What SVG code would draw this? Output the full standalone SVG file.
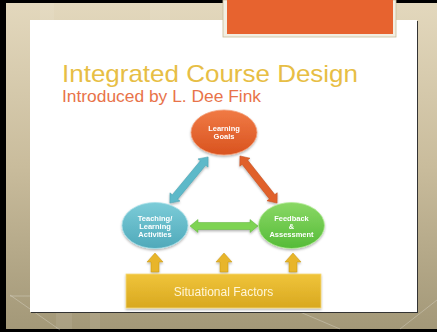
<svg xmlns="http://www.w3.org/2000/svg" width="437" height="332" viewBox="0 0 437 332">
<defs>
<linearGradient id="bg" x1="0" y1="0" x2="0" y2="1">
<stop offset="0" stop-color="#E3D8BD"/>
<stop offset="0.5" stop-color="#C9BC9C"/>
<stop offset="1" stop-color="#A39878"/>
</linearGradient>
<linearGradient id="gOr" x1="0" y1="0" x2="0" y2="1">
<stop offset="0" stop-color="#F07A45"/>
<stop offset="1" stop-color="#D9531F"/>
</linearGradient>
<linearGradient id="gBl" x1="0" y1="0" x2="0" y2="1">
<stop offset="0" stop-color="#7CCCD8"/>
<stop offset="1" stop-color="#4FA9BA"/>
</linearGradient>
<linearGradient id="gGr" x1="0" y1="0" x2="0" y2="1">
<stop offset="0" stop-color="#8AD865"/>
<stop offset="1" stop-color="#55BB38"/>
</linearGradient>
<linearGradient id="gGo" x1="0" y1="0" x2="0" y2="1">
<stop offset="0" stop-color="#F0C43A"/>
<stop offset="1" stop-color="#D8A820"/>
</linearGradient>
<filter id="sh" x="-20%" y="-20%" width="140%" height="150%">
<feDropShadow dx="0" dy="1.5" stdDeviation="1.2" flood-color="#000" flood-opacity="0.3"/>
</filter>
<style>
.lbl{font-family:"Liberation Sans",Arial,sans-serif;font-weight:bold;font-size:7.5px;fill:#fff;text-anchor:middle}
</style>
</defs>
<!-- background frame -->
<rect x="0" y="0" width="437" height="332" fill="#000"/>
<rect x="6" y="3" width="431" height="326" fill="url(#bg)"/>
<g fill="#fff" fill-opacity="0.08">
<rect x="40" y="3" width="14" height="17"/>
<rect x="150" y="3" width="20" height="17"/>
<rect x="56" y="313" width="16" height="16"/>
<rect x="90" y="313" width="10" height="16"/>
</g>
<g stroke="#fff" stroke-opacity="0.25" stroke-width="1" fill="none">
<line x1="10" y1="295" x2="60" y2="330"/>
<line x1="300" y1="312" x2="340" y2="329"/>
<line x1="400" y1="329" x2="437" y2="300"/>
<line x1="10" y1="296" x2="30" y2="296"/>
</g>
<rect x="31" y="21" width="387" height="292" fill="#333"/>
<rect x="30" y="20" width="387" height="292" fill="#fff"/>
<!-- orange tab -->
<rect x="223" y="0" width="173" height="37" fill="#F2EEE2" stroke="#C9BB98" stroke-width="0.8"/>
<rect x="227" y="0" width="166" height="34" fill="#E7632F"/>
<!-- titles -->
<text x="62" y="82" font-family="'Liberation Sans',Arial,sans-serif" font-size="24" fill="#E7BE45" textLength="296" lengthAdjust="spacingAndGlyphs">Integrated Course Design</text>
<text x="62" y="102" font-family="'Liberation Sans',Arial,sans-serif" font-size="16" fill="#E8734A" textLength="199" lengthAdjust="spacingAndGlyphs">Introduced by L. Dee Fink</text>
<!-- connectors -->
<g id="connectors" filter="url(#sh)">
<path transform="translate(189,180) rotate(-50.4)" d="M-30,0 L-22,-6.5 L-22,-3.5 L22,-3.5 L22,-6.5 L30,0 L22,6.5 L22,3.5 L-22,3.5 L-22,6.5 Z" fill="#5DB9C9" stroke="#4A9FAE" stroke-width="0.5"/>
<path transform="translate(258.5,179.5) rotate(51.8)" d="M-30,0 L-22,-6.5 L-22,-3.5 L22,-3.5 L22,-6.5 L30,0 L22,6.5 L22,3.5 L-22,3.5 L-22,6.5 Z" fill="#E0602C" stroke="#C04F20" stroke-width="0.5"/>
<path transform="translate(224,226)" d="M-34,0 L-26,-6.5 L-26,-3.5 L26,-3.5 L26,-6.5 L34,0 L26,6.5 L26,3.5 L-26,3.5 L-26,6.5 Z" fill="#7ED353" stroke="#5FB03A" stroke-width="0.5"/>
<path transform="translate(155,0)" d="M0,253 L8,262 L4,262 L4,272 L-4,272 L-4,262 L-8,262 Z" fill="#E8B52A" stroke="#C49415" stroke-width="0.5"/>
<path transform="translate(224,0)" d="M0,253 L8,262 L4,262 L4,272 L-4,272 L-4,262 L-8,262 Z" fill="#E8B52A" stroke="#C49415" stroke-width="0.5"/>
<path transform="translate(293,0)" d="M0,253 L8,262 L4,262 L4,272 L-4,272 L-4,262 L-8,262 Z" fill="#E8B52A" stroke="#C49415" stroke-width="0.5"/>
</g>
<!-- nodes -->
<g id="goals" filter="url(#sh)">
<ellipse cx="224" cy="132.5" rx="33" ry="22.5" fill="url(#gOr)" stroke="#F4A07A" stroke-width="0.8"/>
<text class="lbl" x="224" y="130.5">Learning</text>
<text class="lbl" x="224" y="138.8">Goals</text>
</g>
<g id="teaching" filter="url(#sh)">
<ellipse cx="155" cy="225.5" rx="33" ry="23" fill="url(#gBl)" stroke="#A8E0E8" stroke-width="0.8"/>
<text class="lbl" x="155" y="221">Teaching/</text>
<text class="lbl" x="155" y="229.2">Learning</text>
<text class="lbl" x="155" y="237">Activities</text>
</g>
<g id="feedback" filter="url(#sh)">
<ellipse cx="291.5" cy="225.5" rx="33" ry="23" fill="url(#gGr)" stroke="#B4EC98" stroke-width="0.8"/>
<text class="lbl" x="291.5" y="221">Feedback</text>
<text class="lbl" x="291.5" y="229.2">&amp;</text>
<text class="lbl" x="291.5" y="237">Assessment</text>
</g>
<g id="situational" filter="url(#sh)">
<rect x="126" y="274" width="195" height="34" fill="url(#gGo)" stroke="#F5D97A" stroke-width="0.8"/>
<text x="223.5" y="295.5" font-family="'Liberation Sans',Arial,sans-serif" font-size="12" fill="#FFF6D8" text-anchor="middle">Situational Factors</text>
</g>
</svg>
